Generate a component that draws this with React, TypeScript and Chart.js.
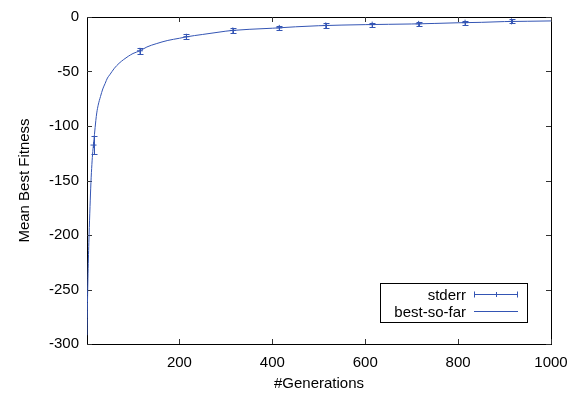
import React, { useEffect, useRef } from 'react';
import { Chart, registerables } from 'chart.js';

Chart.register(...registerables);

// ---- data ----
const generations = [1, 2, 3, 4, 5, 6, 7, 8, 9, 10, 11, 12, 13, 14, 15, 17, 20, 22, 25, 30, 35, 40, 45, 50, 60, 70, 80, 90, 100, 115, 130, 150, 175, 200, 215, 250, 300, 315, 350, 400, 450, 500, 550, 600, 650, 700, 750, 800, 850, 900, 950, 1000];
const bestSoFar = [-292, -262, -240, -222, -207, -193, -180, -168, -157, -147, -139, -132, -126, -121, -117, -108, -95, -88, -81, -73, -66, -61, -56, -53, -47, -42.5, -39, -36, -33.5, -31, -27.5, -24.5, -21.5, -19.5, -18.2, -16, -13, -12.3, -11.3, -10.3, -9, -8, -7.4, -7.0, -6.7, -6.4, -5.9, -5.3, -4.9, -4.2, -3.9, -3.6];

const errGenerations = [15, 115, 215, 315, 415, 515, 615, 715, 815, 915];
const errMeans = [-117.5, -31, -18.1, -12.3, -10, -7.7, -7, -6.3, -5.2, -4.0];
const errSizes = [8.5, 2.6, 2.3, 2.1, 2.0, 2.0, 1.9, 1.9, 1.8, 1.8];

const xTicks = [200, 400, 600, 800, 1000];
const yTicks = [-300, -250, -200, -150, -100, -50, 0];
const legendLabels = ['stderr', 'best-so-far'];
const xTitle = '#Generations';
const yTitle = 'Mean Best Fitness';

const LINE_COLOR = '#3455b4';
const FONT_FAMILY = '"Liberation Sans", Arial, Helvetica, sans-serif';
const FONT_SIZE = 15;

const framePlugin = {
  id: 'frame',
  beforeDatasetsDraw(chart: any) {
    const { ctx, chartArea: a, scales } = chart;
    const xs = scales.x;
    const ys = scales.y;
    ctx.save();
    ctx.strokeStyle = '#000';
    ctx.lineWidth = 1;
    ctx.strokeRect(Math.round(a.left) + 0.5, Math.round(a.top) + 0.5, Math.round(a.right - a.left), Math.round(a.bottom - a.top));
    const tl = 5;
    ctx.strokeStyle = '#333';
    ctx.beginPath();
    yTicks.forEach((v) => {
      const y = Math.round(ys.getPixelForValue(v)) + 0.5;
      ctx.moveTo(a.left, y);
      ctx.lineTo(a.left + tl, y);
      ctx.moveTo(a.right, y);
      ctx.lineTo(a.right - tl, y);
    });
    xTicks.forEach((v) => {
      const x = Math.round(xs.getPixelForValue(v)) + 0.5;
      ctx.moveTo(x, a.bottom);
      ctx.lineTo(x, a.bottom - tl);
      ctx.moveTo(x, a.top);
      ctx.lineTo(x, a.top + tl);
    });
    ctx.stroke();
    ctx.restore();
  },
};

function drawErrorBar(ctx: CanvasRenderingContext2D, x: number, yTop: number, yBot: number, capHalf: number) {
  ctx.beginPath();
  ctx.moveTo(x, yTop);
  ctx.lineTo(x, yBot);
  ctx.moveTo(x - capHalf, yTop);
  ctx.lineTo(x + capHalf, yTop);
  ctx.moveTo(x - capHalf, yBot);
  ctx.lineTo(x + capHalf, yBot);
  ctx.stroke();
}

const errorBarPlugin = {
  id: 'errorBars',
  afterDatasetsDraw(chart: any) {
    const { ctx, scales } = chart;
    const xs = scales.x;
    const ys = scales.y;
    ctx.save();
    ctx.strokeStyle = LINE_COLOR;
    ctx.lineWidth = 1;
    errGenerations.forEach((g, i) => {
      const x = Math.round(xs.getPixelForValue(g)) + 0.5;
      const yTop = Math.round(ys.getPixelForValue(errMeans[i] + errSizes[i])) + 0.5;
      const yBot = Math.round(ys.getPixelForValue(errMeans[i] - errSizes[i])) + 0.5;
      drawErrorBar(ctx, x, yTop, yBot, 3);
    });
    ctx.restore();
  },
};

const legendPlugin = {
  id: 'customLegend',
  afterDraw(chart: any) {
    const { ctx, chartArea: a } = chart;
    const boxRight = Math.round(a.right) - 24;
    const boxBottom = Math.round(a.bottom) - 22;
    const boxW = 147;
    const boxH = 39;
    const left = boxRight - boxW;
    const top = boxBottom - boxH;
    ctx.save();
    ctx.fillStyle = '#fff';
    ctx.fillRect(left, top, boxW, boxH);
    ctx.strokeStyle = '#000';
    ctx.lineWidth = 1;
    ctx.strokeRect(left + 0.5, top + 0.5, boxW, boxH);
    ctx.font = `${FONT_SIZE}px ${FONT_FAMILY}`;
    ctx.fillStyle = '#000';
    ctx.textAlign = 'right';
    ctx.textBaseline = 'middle';
    const textRight = left + 86;
    const sx0 = left + 94;
    const sx1 = left + 138;
    const row1 = top + 11.5;
    const row2 = top + 28.5;
    ctx.fillText(legendLabels[0], textRight, row1 + 1);
    ctx.fillText(legendLabels[1], textRight, row2 + 1);
    ctx.strokeStyle = LINE_COLOR;
    // stderr sample
    ctx.beginPath();
    ctx.moveTo(sx0, row1);
    ctx.lineTo(sx1, row1);
    ctx.moveTo(sx0 + 0.5, row1 - 3);
    ctx.lineTo(sx0 + 0.5, row1 + 3);
    ctx.moveTo(sx1 - 0.5, row1 - 3);
    ctx.lineTo(sx1 - 0.5, row1 + 3);
    const mid = Math.round((sx0 + sx1) / 2) + 0.5;
    ctx.moveTo(mid, row1 - 2.5);
    ctx.lineTo(mid, row1 + 2.5);
    ctx.stroke();
    // best-so-far sample
    ctx.beginPath();
    ctx.moveTo(sx0, row2);
    ctx.lineTo(sx1, row2);
    ctx.stroke();
    ctx.restore();
  },
};

export default function App() {
  const canvasRef = useRef<HTMLCanvasElement | null>(null);

  useEffect(() => {
    if (!canvasRef.current) return;
    const font = { family: FONT_FAMILY, size: FONT_SIZE };
    const chart = new Chart(canvasRef.current, {
      type: 'line',
      data: {
        datasets: [
          {
            label: legendLabels[1],
            data: generations.map((g, i) => ({ x: g, y: bestSoFar[i] })),
            borderColor: LINE_COLOR,
            borderWidth: 1,
            pointRadius: 0,
            fill: false,
            cubicInterpolationMode: 'monotone',
          },
          {
            label: legendLabels[0],
            type: 'scatter',
            data: errGenerations.map((g, i) => ({ x: g, y: errMeans[i] })),
            borderColor: LINE_COLOR,
            backgroundColor: LINE_COLOR,
            pointStyle: 'cross',
            pointRadius: 3,
            borderWidth: 1,
            showLine: false,
          },
        ],
      },
      options: {
        animation: false,
        responsive: false,
        devicePixelRatio: 1,
        layout: { padding: { top: 13, right: 33, left: 0, bottom: 0 } },
        plugins: {
          legend: { display: false },
          tooltip: { enabled: false },
        },
        scales: {
          x: {
            type: 'linear',
            min: 1,
            max: 1000,
            grid: { display: false, drawTicks: false },
            border: { display: false },
            ticks: { color: '#000', font, padding: 10, maxRotation: 0, callback: (v: any) => String(v) },
            afterBuildTicks: (s: any) => {
              s.ticks = xTicks.map((v) => ({ value: v }));
            },
            afterFit: (s: any) => {
              s.height = 55;
            },
            title: { display: true, text: xTitle, color: '#000', font, padding: { top: 0, bottom: 6 } },
          },
          y: {
            type: 'linear',
            min: -300,
            max: 0,
            grid: { display: false, drawTicks: false },
            border: { display: false },
            ticks: { color: '#000', font, padding: 8, callback: (v: any) => String(v) },
            afterBuildTicks: (s: any) => {
              s.ticks = yTicks.map((v) => ({ value: v }));
            },
            afterFit: (s: any) => {
              s.width = 87;
            },
            title: { display: true, text: yTitle, color: '#000', font, padding: { top: 16, bottom: 0 } },
          },
        },
      },
      plugins: [framePlugin, errorBarPlugin, legendPlugin],
    } as any);
    return () => chart.destroy();
  }, []);

  return (
    <div style={{ position: 'fixed', left: 0, top: 0, width: 584, height: 399, background: '#fff' }}>
      <canvas ref={canvasRef} width={584} height={399} />
    </div>
  );
}
